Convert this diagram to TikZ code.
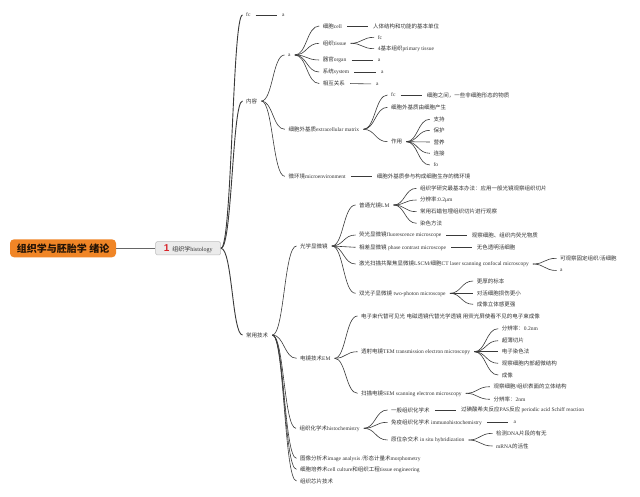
\documentclass[tikz,border=0pt]{standalone}
\usepackage{fontspec}
\setmainfont{Liberation Serif}
\newfontfamily\cjkfont{Noto Sans CJK SC}
\newfontfamily\sansfnt{Liberation Sans}
\usetikzlibrary{calc}
\XeTeXinterchartokenstate=1
\chardef\CJKcls=7
\makeatletter
\def\setcjkrange#1#2{\count@=#1\relax\loop\XeTeXcharclass\count@=\CJKcls\ifnum\count@<#2\relax\advance\count@ by 1\repeat}
\makeatother
\setcjkrange{"4E00}{"9FFF}
\setcjkrange{"3000}{"303F}
\setcjkrange{"FF00}{"FFEF}
\XeTeXinterchartoks 0 \CJKcls = {\begingroup\cjkfont}
\XeTeXinterchartoks 4095 \CJKcls = {\begingroup\cjkfont}
\XeTeXinterchartoks \CJKcls 0 = {\endgroup}
\XeTeXinterchartoks \CJKcls 4095 = {\endgroup}
\definecolor{txtc}{HTML}{333333}
\definecolor{linec}{HTML}{3A3A3A}
\definecolor{orangec}{HTML}{F08526}
\definecolor{grayfill}{HTML}{EBEBEB}
\definecolor{grayline}{HTML}{BDBDBD}
\definecolor{numred}{HTML}{D8242A}
\begin{document}
\begin{tikzpicture}[x=1pt,y=-1pt,
  every node/.style={font=\fontsize{5.5}{6}\selectfont, text=txtc},
  txt/.style={anchor=west, inner xsep=2.5pt, inner ysep=1pt, xshift=-2.5pt},
  lk/.style={draw=linec, line width=0.6pt, shorten <=1.5pt, shorten >=1pt,
    to path={(\tikztostart) .. controls ($(\tikztostart -| \tikztotarget)!0.5!(\tikztostart)$) and ($(\tikztotarget -| \tikztostart)!0.5!(\tikztotarget)$) .. (\tikztotarget)}},
  mainlk/.style={lk, line width=0.9pt, shorten <=0pt},
  hl/.style={draw=linec, line width=0.6pt, shorten <=2.5pt, shorten >=2.5pt},
  titlebox/.style={fill=orangec, rounded corners=4pt, minimum width=106pt, minimum height=18pt,
    inner sep=0pt, font=\fontsize{10}{11}\selectfont\bfseries, text=black!85!orangec},
  hbox/.style={fill=grayfill, draw=grayline, line width=0.5pt, rounded corners=1.5pt,
    minimum width=65pt, minimum height=13.3pt, inner sep=0pt, font=\fontsize{6}{7}\selectfont},
]
\useasboundingbox (0,0) rectangle (640,497);
\fill[white] (0,0) rectangle (640,497);

% root
\node[titlebox] (t) at (63,248.3) {组织学与胚胎学 绪论};
\node[hbox] (h) at (188.2,248.3) {{\sansfnt\bfseries\fontsize{10}{10}\selectfont\textcolor{numred}{1}}\hspace{3pt}组织学histology};
\draw[draw=gray!80!black, line width=0.8pt] (t.east) -- (h.west);

% level 1
\node[txt] (fc1) at (246,15) {fc};
\node[txt] (fc1a) at (282,15) {a};
\node[txt] (nr) at (246,101) {内容};
\node[txt] (cy) at (246,335) {常用技术};
\draw[mainlk] (h.east) to (fc1.west);
\draw[mainlk] (h.east) to (nr.west);
\draw[mainlk] (h.east) to (cy.west);
\draw[hl] (fc1.east) -- (fc1a.west);

% 内容
\node[txt] (na) at (288,55) {a};
\node[txt] (ecm) at (288.3,129.3) {细胞外基质extracellular matrix};
\node[txt] (mic) at (288.3,176.3) {微环境microenvironment};
\foreach \c in {na,ecm,mic} \draw[lk] (nr.east) to (\c.west);

\node[txt] (c1) at (322.7,26) {细胞cell};
\node[txt] (c2) at (322.7,43.3) {组织tissue};
\node[txt] (c3) at (322.7,60) {器官organ};
\node[txt] (c4) at (322.7,72) {系统system};
\node[txt] (c5) at (322.7,83.5) {相互关系};
\foreach \c in {c1,c2,c3,c4,c5} \draw[lk] (na.east) to (\c.west);
\node[txt] (c1a) at (373,26) {人体结构和功能的基本单位};
\node[txt] (c2a) at (377.7,37.3) {fc};
\node[txt] (c2b) at (377.7,48.7) {4基本组织primary tissue};
\node[txt] (c3a) at (377.7,60) {a};
\node[txt] (c4a) at (381,72) {a};
\node[txt] (c5a) at (376,84) {a};
\draw[hl] (c1.east) -- (c1a.west);
\draw[lk] (c2.east) to (c2a.west);
\draw[lk] (c2.east) to (c2b.west);
\draw[hl] (c3.east) -- (c3a.west);
\draw[hl] (c4.east) -- (c4a.west);
\draw[hl] (c5.east) -- (c5a.west);

\node[txt] (e1) at (391,95) {fc};
\node[txt] (e1a) at (426.7,95) {细胞之间，一些非细胞形态的物质};
\node[txt] (e2) at (391,107.3) {细胞外基质由细胞产生};
\node[txt] (e3) at (391,141.7) {作用};
\foreach \c in {e1,e2,e3} \draw[lk] (ecm.east) to (\c.west);
\draw[hl] (e1.east) -- (e1a.west);
\node[txt] (f1) at (433.3,119.3) {支持};
\node[txt] (f2) at (433.3,130.3) {保护};
\node[txt] (f3) at (433.3,142) {营养};
\node[txt] (f4) at (433.3,153.3) {连接};
\node[txt] (f5) at (433.3,165) {fo};
\foreach \c in {f1,f2,f3,f4,f5} \draw[lk] (e3.east) to (\c.west);

\node[txt] (mica) at (376.7,176.3) {细胞外基质参与构成细胞生存的微环境};
\draw[hl] (mic.east) -- (mica.west);

% 常用技术
\node[txt] (lm) at (300,246) {光学显微镜};
\node[txt] (em) at (300,358.3) {电镜技术EM};
\node[txt] (hc) at (299.5,428.3) {组织化学术histochemistry};
\node[txt] (ia) at (300,458.3) {图像分析术image analysis /形态计量术morphometry};
\node[txt] (cc) at (300,469.3) {细胞培养术cell culture和组织工程tissue engineering};
\node[txt] (tc) at (300,481) {组织芯片技术};
\foreach \c in {lm,em,hc,ia,cc,tc} \draw[lk] (cy.east) to (\c.west);

% 光学显微镜
\node[txt] (l1) at (359,205) {普通光镜LM};
\node[txt] (l2) at (359,235) {荧光显微镜fluorescence microscope};
\node[txt] (l3) at (359,247.3) {相差显微镜 phase contrast microscope};
\node[txt] (l4) at (359,264) {激光扫描共聚焦显微镜LSCM/细胞CT laser scanning confocal microscopy};
\node[txt] (l5) at (359,293.3) {双光子显微镜 two-photon microscope};
\foreach \c in {l1,l2,l3,l4,l5} \draw[lk] (lm.east) to (\c.west);

\node[txt] (p1) at (420,188.3) {组织学研究最基本办法：应用一般光镜观察组织切片};
\node[txt] (p2) at (420,200) {分辨率:0.2μm};
\node[txt] (p3) at (420,211.7) {常用石蜡包埋组织切片进行观察};
\node[txt] (p4) at (420,223.3) {染色方法};
\foreach \c in {p1,p2,p3,p4} \draw[lk] (l1.east) to (\c.west);

\node[txt] (l2a) at (471.7,235) {观察细胞、组织内荧光物质};
\draw[hl] (l2.east) -- (l2a.west);
\node[txt] (l3a) at (476.7,247.3) {无色透明活细胞};
\draw[hl] (l3.east) -- (l3a.west);

\node[txt] (q1) at (560,258.3) {可观察固定组织/活细胞};
\node[txt] (q2) at (560,270.5) {a};
\draw[lk] (l4.east) to (q1.west);
\draw[lk] (l4.east) to (q2.west);

\node[txt] (r1) at (476.7,281) {更厚的标本};
\node[txt] (r2) at (476.7,293.3) {对活细胞损伤更小};
\node[txt] (r3) at (476.7,304.3) {成像立体感更强};
\foreach \c in {r1,r2,r3} \draw[lk] (l5.east) to (\c.west);

% 电镜技术
\node[txt] (m1) at (361,316) {电子束代替可见光 电磁透镜代替光学透镜 用荧光屏使看不见的电子束成像};
\node[txt] (m2) at (361,351.7) {透射电镜TEM transmission electron microscopy};
\node[txt] (m3) at (361,393.3) {扫描电镜SEM scanning electron microscopy};
\foreach \c in {m1,m2,m3} \draw[lk] (em.east) to (\c.west);

\node[txt] (s1) at (501.7,328.7) {分辨率：0.2nm};
\node[txt] (s2) at (501.7,340.7) {超薄切片};
\node[txt] (s3) at (501.7,351.7) {电子染色法};
\node[txt] (s4) at (501.7,363.3) {观察细胞内部超微结构};
\node[txt] (s5) at (501.7,375) {成像};
\foreach \c in {s1,s2,s3,s4,s5} \draw[lk] (m2.east) to (\c.west);

\node[txt] (u1) at (493.3,386.7) {观察细胞/组织表面的立体结构};
\node[txt] (u2) at (493.3,399.3) {分辨率：2nm};
\foreach \c in {u1,u2} \draw[lk] (m3.east) to (\c.west);

% 组织化学术
\node[txt] (h1) at (391,410) {一般组织化学术};
\node[txt] (h2) at (391,422.3) {免疫组织化学术 immunohistochemistry};
\node[txt] (h3) at (391,440) {原位杂交术 in situ hybridization};
\foreach \c in {h1,h2,h3} \draw[lk] (hc.east) to (\c.west);
\node[txt] (h1a) at (461,410) {过碘酸希夫反应PAS反应 periodic acid Schiff reaction};
\draw[hl] (h1.east) -- (h1a.west);
\node[txt] (h2a) at (513.3,422.3) {a};
\draw[hl] (h2.east) -- (h2a.west);
\node[txt] (v1) at (496,433.3) {检测DNA片段的有无};
\node[txt] (v2) at (496,446) {mRNA的活性};
\foreach \c in {v1,v2} \draw[lk] (h3.east) to (\c.west);
\end{tikzpicture}
\end{document}
